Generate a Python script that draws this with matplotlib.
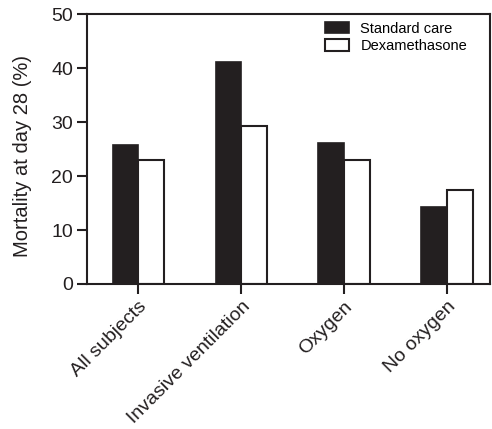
import numpy as np
import matplotlib
matplotlib.use("Agg")
import matplotlib.pyplot as plt

plt.rcParams['font.family'] = ['Liberation Sans', 'DejaVu Sans']

categories = ['All subjects', 'Invasive ventilation', 'Oxygen', 'No oxygen']
standard_care = [25.8, 41.2, 26.2, 14.2]
dexamethasone = [23.0, 29.3, 23.0, 17.4]

fig = plt.figure(figsize=(4.92, 4.29), dpi=100)
ax = fig.add_axes([0.177, 0.338, 0.819, 0.629])

x = np.arange(len(categories))
w = 0.25
ax.bar(x - w / 2, standard_care, w, color='#231f20', edgecolor='#231f20',
       linewidth=1.2, label='Standard care')
ax.bar(x + w / 2, dexamethasone, w, color='white', edgecolor='#231f20',
       linewidth=1.5, label='Dexamethasone')

ax.set_xlim(-0.5, 3.42)
ax.set_ylim(0, 50)
ax.set_yticks([0, 10, 20, 30, 40, 50])
ax.set_xticks(x)
ax.set_xticklabels(categories, rotation=45, ha='right', rotation_mode='anchor')
ax.tick_params(axis='both', direction='out', length=7, width=1.5,
               labelsize=14, color='#231f20', labelcolor='#231f20', pad=3)
for s in ax.spines.values():
    s.set_linewidth(1.5)
    s.set_color('#231f20')

ax.set_ylabel('Mortality at day 28 (%)', fontsize=14.5, color='#231f20')
ax.yaxis.set_label_coords(-0.136, 0.474)

ax.legend(loc='upper right', frameon=False, fontsize=10.5,
          handlelength=1.7, handleheight=0.82, handletextpad=0.75,
          borderaxespad=0.2, labelspacing=0.25,
          bbox_to_anchor=(0.965, 1.005))

fig.savefig('out.png', dpi=100)
